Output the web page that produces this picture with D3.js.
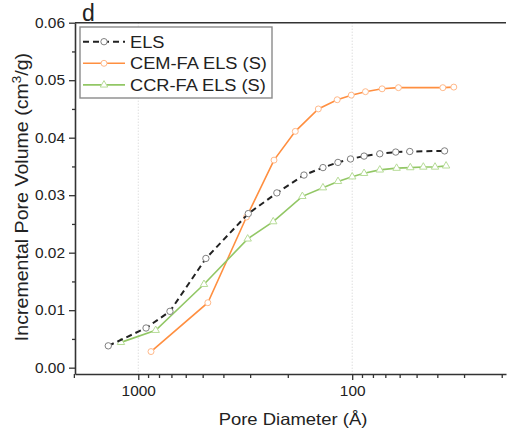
<!DOCTYPE html>
<html>
<head>
<meta charset="utf-8">
<script src="https://cdn.jsdelivr.net/npm/d3@7"></script>
<style>
  body { margin: 0; background: #fff; }
  svg text { font-family: "Liberation Sans", Arial, sans-serif; fill: #222; }
</style>
</head>
<body>
<script>
// pore diameter (Å) and incremental pore volume (cm3/g)
const elsDiam = [1381, 920, 711, 483, 306, 225, 168, 137, 116.6, 101.8, 88, 74.3, 62.6, 53.8, 37];
const elsVol = [0.0038, 0.0069, 0.0098, 0.0190, 0.0268, 0.0304, 0.0335, 0.0348, 0.0357, 0.0363, 0.0368, 0.0372, 0.0375, 0.0376, 0.0377];

const cemDiam = [872, 473, 312, 232, 184.5, 144, 117.5, 101, 86.7, 72.5, 60.8, 37.7, 33.5];
const cemVol = [0.0028, 0.0113, 0.0262, 0.0361, 0.0411, 0.0450, 0.0466, 0.0474, 0.0480, 0.0485, 0.0487, 0.0487, 0.0488];

const ccrDiam = [1205, 829, 493, 308, 234, 171, 137, 116.5, 100, 88, 74.3, 62, 53.5, 46.5, 41, 36.4];
const ccrVol = [0.0044, 0.0065, 0.0145, 0.0224, 0.0254, 0.0298, 0.0313, 0.0324, 0.0332, 0.0338, 0.0344, 0.0347, 0.0348, 0.0349, 0.0349, 0.0351];

const seriesNames = ["ELS", "CEM-FA ELS (S)", "CCR-FA ELS (S)"];

const yMajor = [0, 0.01, 0.02, 0.03, 0.04, 0.05, 0.06];
const yMinor = [0.005, 0.015, 0.025, 0.035, 0.045, 0.055];
const xMajor = [1000, 100];
const xMinor = [2000, 900, 800, 700, 600, 500, 400, 300, 200, 90, 80, 70, 60, 50, 40, 30, 20];

const W = 510, H = 435;
const box = { left: 75, right: 506, top: 22.7, bottom: 374 };
const STRETCH = 1.12; // the original lettering is a bit wider than Arial

const svg = d3.select("body").append("svg")
    .attr("width", W)
    .attr("height", H);

const x = d3.scaleLog()
    .domain([1976, 19.1])
    .range([box.left, box.right]);
const y = d3.scaleLinear()
    .domain([-0.0011, 0.06])
    .range([box.bottom, box.top]);

// stretch text horizontally around its anchor point
const stretch = (sel) => {
    sel.each(function () {
        const t = d3.select(this);
        const tx = +t.attr("x") || 0, ty = +t.attr("y") || 0;
        t.attr("x", 0).attr("y", 0)
            .attr("transform", "translate(" + tx + "," + ty + ") scale(" + STRETCH + ",1)");
    });
};

// vertical dotted grid at the decades
svg.append("g").selectAll("line")
    .data(xMajor)
    .enter().append("line")
    .attr("x1", d => x(d)).attr("x2", d => x(d))
    .attr("y1", box.top).attr("y2", box.bottom)
    .attr("stroke", "#cfcfcf")
    .attr("stroke-width", 1)
    .attr("stroke-dasharray", "1,2");

// series
const makeData = (ds, vs) => ds.map((d, i) => [d, vs[i]]);
const line = d3.line().x(d => x(d[0])).y(d => y(d[1]));

const series = [
    { name: seriesNames[1], data: makeData(cemDiam, cemVol), color: "#ff8f40", mark: "#ffb98a", dash: null, width: 1.6, sym: d3.symbolCircle, size: 28 },
    { name: seriesNames[2], data: makeData(ccrDiam, ccrVol), color: "#92c765", mark: "#b7dc98", dash: null, width: 1.6, sym: d3.symbolTriangle, size: 24 },
    { name: seriesNames[0], data: makeData(elsDiam, elsVol), color: "#222", mark: "#808080", dash: "6,4", width: 2, sym: d3.symbolCircle, size: 32 }
];

series.forEach(s => {
    svg.append("path")
        .datum(s.data)
        .attr("d", line)
        .attr("fill", "none")
        .attr("stroke", s.color)
        .attr("stroke-width", s.width)
        .attr("stroke-dasharray", s.dash);
    svg.append("g").selectAll("path")
        .data(s.data)
        .enter().append("path")
        .attr("d", d3.symbol().type(s.sym).size(s.size))
        .attr("transform", d => "translate(" + x(d[0]) + "," + y(d[1]) + ")")
        .attr("fill", "#fff")
        .attr("stroke", s.mark)
        .attr("stroke-width", 1);
});

// axes
const axisColor = "#333";
const styleAxis = g => {
    g.selectAll(".domain").attr("stroke", axisColor).attr("stroke-width", 1.6);
    g.selectAll(".tick line").attr("stroke", axisColor).attr("stroke-width", 1.3);
};

const yAx = svg.append("g")
    .attr("transform", "translate(" + box.left + ",0)")
    .call(d3.axisLeft(y).tickValues(yMajor).tickFormat(d3.format(".2f")).tickSize(6).tickSizeOuter(0).tickPadding(4))
    .call(styleAxis);
yAx.selectAll("text").attr("font-size", 13.8).attr("fill", "#222");
stretch(yAx.selectAll("text"));
svg.append("g")
    .attr("transform", "translate(" + box.left + ",0)")
    .call(d3.axisLeft(y).tickValues(yMinor).tickFormat("").tickSize(3).tickSizeOuter(0))
    .call(styleAxis)
    .select(".domain").remove();

const xAx = svg.append("g")
    .attr("transform", "translate(0," + box.bottom + ")")
    .call(d3.axisBottom(x).tickValues(xMajor).tickFormat(d3.format("d")).tickSize(6).tickSizeOuter(0).tickPadding(6))
    .call(styleAxis);
xAx.selectAll("text").attr("font-size", 13.8).attr("fill", "#222");
stretch(xAx.selectAll("text"));
svg.append("g")
    .attr("transform", "translate(0," + box.bottom + ")")
    .call(d3.axisBottom(x).tickValues(xMinor).tickFormat("").tickSize(4).tickSizeOuter(0))
    .call(styleAxis)
    .select(".domain").remove();

// top frame line
svg.append("line")
    .attr("x1", box.left).attr("x2", box.right)
    .attr("y1", box.top).attr("y2", box.top)
    .attr("stroke", axisColor).attr("stroke-width", 1.6);

// axis titles
svg.append("text")
    .attr("transform", "translate(293," + 425 + ") scale(" + STRETCH + ",1)")
    .attr("text-anchor", "middle")
    .attr("font-size", 16.5)
    .text("Pore Diameter (Å)");

const yTitle = svg.append("text")
    .attr("transform", "translate(27.5,197) rotate(-90) scale(" + STRETCH + ",1)")
    .attr("text-anchor", "middle")
    .attr("font-size", 17.5);
yTitle.append("tspan").text("Incremental Pore Volume (cm");
yTitle.append("tspan").attr("font-size", 12).attr("dy", "-0.55em").text("3");
yTitle.append("tspan").attr("dy", "0.4em").text("/g)");

// panel letter
svg.append("text")
    .attr("x", 82).attr("y", 21)
    .attr("font-size", 23)
    .text("d");

// legend
const legend = svg.append("g");
legend.append("rect")
    .attr("x", 80).attr("y", 27)
    .attr("width", 192).attr("height", 71)
    .attr("fill", "#fff")
    .attr("stroke", "#8a8a8a")
    .attr("stroke-width", 1.4);

const legendOrder = [series[2], series[0], series[1]];
legendOrder.forEach((s, i) => {
    const ly = 41.7 + i * 21.6;
    legend.append("line")
        .attr("x1", 83).attr("x2", 125)
        .attr("y1", ly).attr("y2", ly)
        .attr("stroke", s.color)
        .attr("stroke-width", s.width)
        .attr("stroke-dasharray", s.dash);
    legend.append("path")
        .attr("d", d3.symbol().type(s.sym).size(s.size))
        .attr("transform", "translate(104," + ly + ")")
        .attr("fill", "#fff")
        .attr("stroke", s.mark)
        .attr("stroke-width", 1);
    legend.append("text")
        .attr("transform", "translate(130," + (ly + 6) + ") scale(" + STRETCH + ",1)")
        .attr("font-size", 16.3)
        .text(s.name);
});
</script>
</body>
</html>
